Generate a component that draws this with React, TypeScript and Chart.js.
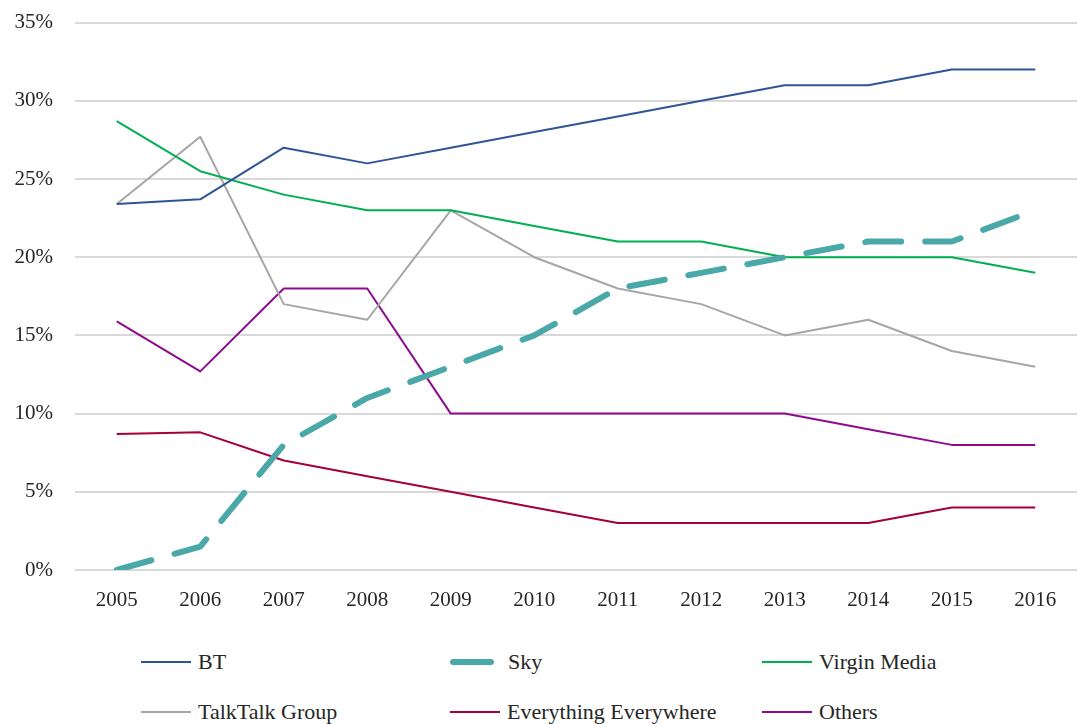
import React, { useEffect, useRef } from "react";
import { Chart, registerables } from "chart.js";

Chart.register(...registerables);

const years = ["2005", "2006", "2007", "2008", "2009", "2010", "2011", "2012", "2013", "2014", "2015", "2016"];
const bt = [23.4, 23.7, 27, 26, 27, 28, 29, 30, 31, 31, 32, 32];
const sky = [0, 1.5, 8, 11, 13, 15, 18, 19, 20, 21, 21, 23];
const virgin = [28.7, 25.5, 24, 23, 23, 22, 21, 21, 20, 20, 20, 19];
const talktalk = [23.4, 27.7, 17, 16, 23, 20, 18, 17, 15, 16, 14, 13];
const ee = [8.7, 8.8, 7, 6, 5, 4, 3, 3, 3, 3, 4, 4];
const others = [15.9, 12.7, 18, 18, 10, 10, 10, 10, 10, 9, 8, 8];

const FONT = "'Liberation Serif', serif";
const TEXT = "#262626";

type Series = { name: string; data: number[]; color: string; width: number; dash?: number[] };

const series: Series[] = [
  { name: "BT", data: bt, color: "#2F5597", width: 2 },
  { name: "Sky", data: sky, color: "#4AA8A9", width: 6, dash: [36, 24] },
  { name: "Virgin Media", data: virgin, color: "#00B050", width: 2 },
  { name: "TalkTalk Group", data: talktalk, color: "#A6A6A6", width: 2 },
  { name: "Everything Everywhere", data: ee, color: "#A5003A", width: 2 },
  { name: "Others", data: others, color: "#8E0B8E", width: 2 },
];

const legendPos = [
  { x: 141, y: 662 },
  { x: 450, y: 662 },
  { x: 762, y: 662 },
  { x: 141, y: 712 },
  { x: 450, y: 712 },
  { x: 762, y: 712 },
];

export default function App() {
  const ref = useRef<HTMLCanvasElement | null>(null);

  useEffect(() => {
    if (!ref.current) return;
    const chart = new Chart(ref.current, {
      type: "line",
      data: {
        labels: years,
        datasets: series.map((s) => ({
          label: s.name,
          data: s.data,
          borderColor: s.color,
          backgroundColor: s.color,
          borderWidth: s.width,
          borderDash: s.dash || [],
          borderCapStyle: s.dash ? "round" : "butt",
          borderJoinStyle: "round",
          pointRadius: 0,
          pointHoverRadius: 0,
          tension: 0,
          fill: false,
        })),
      },
      options: {
        animation: false,
        responsive: false,
        maintainAspectRatio: false,
        layout: { padding: { top: 11, right: 0, left: 0, bottom: 0 } },
        plugins: { legend: { display: false }, tooltip: { enabled: false } },
        scales: {
          x: {
            offset: true,
            grid: { display: false, drawTicks: false },
            border: { display: false },
            ticks: { color: TEXT, font: { family: FONT, size: 21 }, padding: 18, maxRotation: 0 },
            afterFit: (scale: any) => {
              scale.height = 50;
            },
          },
          y: {
            min: 0,
            max: 35,
            grid: { color: "#D9D9D9", lineWidth: 2, drawTicks: false },
            border: { display: false },
            ticks: {
              stepSize: 5,
              color: TEXT,
              font: { family: FONT, size: 21 },
              padding: 22,
              callback: (v: any) => v + "%",
            },
            afterFit: (scale: any) => {
              scale.width = 75;
            },
          },
        },
      },
    });
    return () => chart.destroy();
  }, []);

  return (
    <div style={{ position: "fixed", left: 0, top: 0, width: 1077, height: 724, background: "#fff", overflow: "hidden" }}>
      <canvas
        ref={ref}
        width={1077}
        height={632}
        style={{ position: "absolute", left: 0, top: -12, display: "block", width: 1077, height: 632 }}
      />
      {series.map((s, i) => (
        <div
          key={s.name}
          style={{
            position: "absolute",
            left: legendPos[i].x,
            top: legendPos[i].y - 14,
            height: 28,
            display: "flex",
            alignItems: "center",
            whiteSpace: "nowrap",
            fontFamily: FONT,
            fontSize: 22,
            color: TEXT,
          }}
        >
          <span
            style={{
              display: "inline-block",
              width: s.dash ? 44 : 50,
              height: s.dash ? 6 : 2,
              borderRadius: s.dash ? 3 : 0,
              background: s.color,
              marginRight: s.dash ? 14 : 7,
            }}
          />
          <span>{s.name}</span>
        </div>
      ))}
    </div>
  );
}
